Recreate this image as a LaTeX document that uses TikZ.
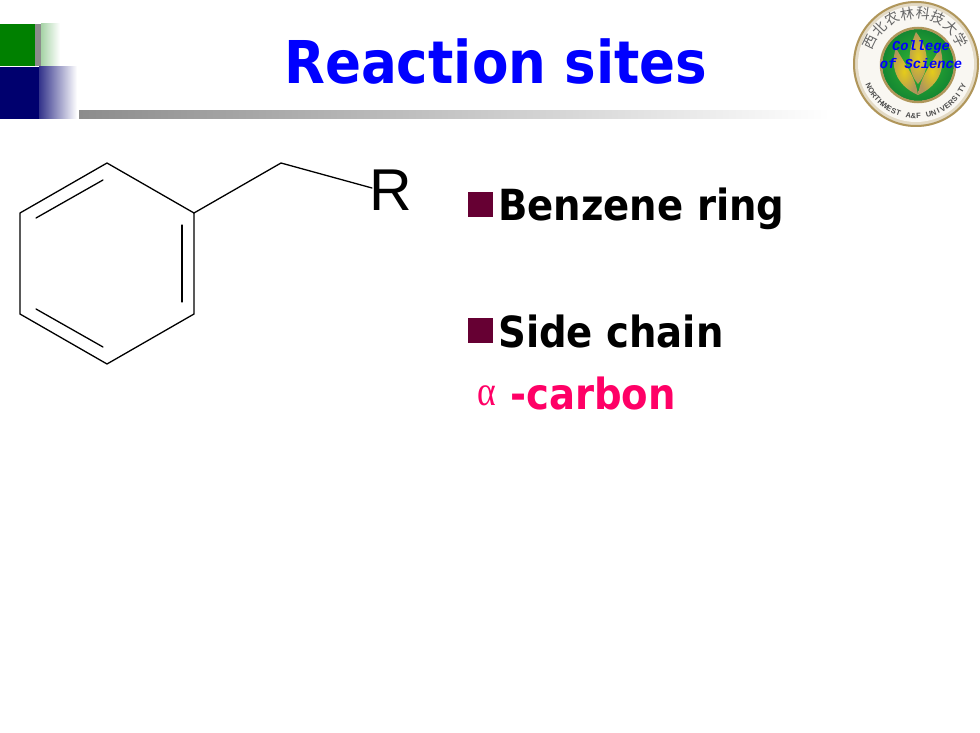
\documentclass[tikz,border=0pt]{standalone}
\usepackage{fontspec}
\newfontfamily\heavyfont[FakeStretch=0.9]{DejaVu Sans Bold}
\newfontfamily\cjk{Noto Sans CJK SC}
\newfontfamily\serifalpha{Liberation Serif}
\newfontfamily\arialfont{Liberation Sans}
\newfontfamily\monofont{Liberation Mono}
\usetikzlibrary{calc}

\definecolor{titleBlue}{RGB}{0,0,255}
\definecolor{bulletPlum}{RGB}{102,0,51}
\definecolor{accentPink}{RGB}{255,0,102}
\definecolor{barGray}{RGB}{140,140,140}
\definecolor{sealGold}{RGB}{176,150,90}
\definecolor{sealGreen}{RGB}{20,135,50}
\definecolor{cornerGreen}{RGB}{0,128,0}
\definecolor{cornerNavy}{RGB}{0,0,110}

\begin{document}
\begin{tikzpicture}[
    x=1pt,y=-1pt,
    % --- Styles ---
    bond/.style = {color=black,line width=1.3pt,line cap=round,line join=round}, % molecule lines
    headline/.style = {anchor=base west,inner sep=0pt,font=\heavyfont\fontsize{59}{60}\selectfont,color=titleBlue},
    item/.style = {anchor=base west,inner sep=0pt,font=\heavyfont\fontsize{42.9}{44}\selectfont,color=#1},
    bullet/.style = {fill=bulletPlum,draw=none,inner sep=0pt,minimum size=25pt,anchor=north west},
    sealHan/.style = {inner sep=0pt,font=\cjk\fontsize{14}{14}\selectfont,color=black!60},
    sealLatin/.style = {inner sep=0pt,font=\arialfont\bfseries\fontsize{7.5}{8}\selectfont,color=black!70},
    sealBlue/.style = {inner sep=0pt,font=\monofont\bfseries\itshape\fontsize{13.7}{15}\selectfont,color=titleBlue},
    leaf/.style = {inner color=yellow!60!brown,outer color=sealGold}
    ]

    % --- Page ---
    \useasboundingbox (0,0) rectangle (980,733);
    \fill[white] (0,0) rectangle (980,733);

    % --- Corner squares and bar ---
    \fill[color=cornerGreen] (0,24) rectangle (35,66);
    \fill[color=barGray] (35,24) rectangle (41,66);
    \shade[left color=cornerGreen!35!white,right color=white] (41,24) rectangle (60,66);
    \fill[color=cornerNavy] (0,67) rectangle (39,119);
    \shade[left color=cornerNavy!80!white,right color=white] (39,67) rectangle (77,119);
    \shade[left color=barGray,right color=white] (79,111) rectangle (830,119);

    % --- Title ---
    \node[headline] (title) at (284,84) {Reaction sites};

    % --- Seal ---
    \coordinate (sealC) at (916,64);
    \fill[color=sealGold!35!white] (sealC) circle (63);
    \draw[color=sealGold,line width=2pt] (sealC) circle (62);
    \fill[color=white!92!sealGold] (sealC) circle (58);
    \shade[inner color=green!65!black!80,outer color=sealGreen] (918,65) circle (36);
    \draw[color=sealGold,line width=2.5pt] (918,65) circle (37);
    \shade[leaf] (918,95) .. controls (895,85) and (890,65) .. (896,48) .. controls (905,65) and (915,75) .. (918,95) -- cycle;
    \shade[leaf] (918,95) .. controls (941,85) and (946,65) .. (940,48) .. controls (931,65) and (921,75) .. (918,95) -- cycle;
    \shade[leaf] (918,84) .. controls (906,70) and (908,50) .. (916,32) .. controls (930,50) and (930,70) .. (918,84) -- cycle;
    \foreach \ch [count=\i from 0] in {西,北,农,林,科,技,大,学} {
        \pgfmathsetmacro{\a}{154-18*\i}
        \pgfmathsetmacro{\rot}{\a-90}
        \node[sealHan,rotate=\rot] (han\i) at ($(sealC)+({51*cos(\a)},{-51*sin(\a)})$) {\ch};
    }
    \foreach \ch [count=\i from 0] in {N,O,R,T,H,W,E,S,T,{},A,\&,F,{},U,N,I,V,E,R,S,I,T,Y} {
        \pgfmathsetmacro{\a}{205+5.65*\i}
        \pgfmathsetmacro{\rot}{\a-270}
        \node[sealLatin,rotate=\rot] (lat\i) at ($(sealC)+({52*cos(\a)},{-52*sin(\a)})$) {\ch};
    }
    \node[sealBlue] (sealTop) at (921,47) {College};
    \node[sealBlue] (sealBot) at (921,64) {of Science};

    % --- Coordinates of the molecule ---
    \coordinate (top) at (107,163);
    \coordinate (upR) at (194,213);
    \coordinate (lowR) at (194,314);
    \coordinate (bottom) at (107,364);
    \coordinate (lowL) at (20,314);
    \coordinate (upL) at (20,213);
    \coordinate (alphaC) at (281,163);
    \coordinate (chainEnd) at (372,188);
    \node[inner sep=0pt,anchor=base west,font=\arialfont\fontsize{59}{60}\selectfont] (rest) at (369,210) {R};

    % --- Ring and side chain ---
    \draw[bond] (top) -- (upR) -- (lowR) -- (bottom) -- (lowL) -- (upL) -- cycle;
    \draw[bond] (upR) -- (alphaC) -- (chainEnd);

    % --- Inner double bonds ---
    \coordinate (dblA) at (36,218);
    \coordinate (dblB) at (103,180);
    \coordinate (dblC) at (36,309);
    \coordinate (dblD) at (103,347);
    \coordinate (dblE) at (182,225);
    \coordinate (dblF) at (182,302);
    \draw[bond] (dblA) -- (dblB);
    \draw[bond] (dblC) -- (dblD);
    \draw[bond] (dblE) -- (dblF);

    % --- Text on the right ---
    \node[bullet] (bulletA) at (468,192) {};
    \node[bullet] (bulletB) at (468,318) {};
    \node[item=black] (ring) at (498,220) {Benzene ring};
    \node[item=black] (chain) at (498,347) {Side chain};
    \node[inner sep=0pt,anchor=base west,xscale=0.85,font=\serifalpha\fontsize{42}{44}\selectfont,color=accentPink] (alpha) at (477,405) {α};
    \node[item=accentPink] (carbon) at (510,409) {-carbon};
\end{tikzpicture}
\end{document}
